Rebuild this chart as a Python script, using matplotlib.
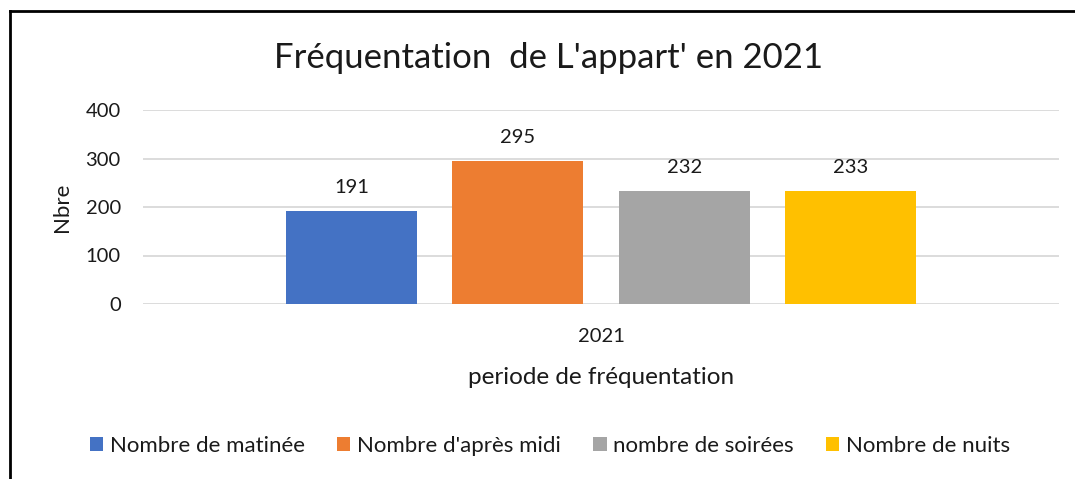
import matplotlib
matplotlib.use("Agg")
import matplotlib.pyplot as plt
from matplotlib.lines import Line2D
from matplotlib.patches import Patch

plt.rcParams['font.family'] = ['Lato', 'DejaVu Sans']

categories = ["2021"]
series_names = ["Nombre de matinée", "Nombre d'après midi", "nombre de soirées", "Nombre de nuits"]
values = [191, 295, 232, 233]
colors = ["#4472C4", "#ED7D31", "#A5A5A5", "#FFC000"]
yticks = [0, 100, 200, 300, 400]

TXT = '#1a1a1a'
W, H = 1075, 479
fig = plt.figure(figsize=(W / 100, H / 100), dpi=100)
ax = fig.add_axes([143 / W, (H - 304) / H, (1059 - 143) / W, 194 / H])

offsets = [-0.2724, -0.0912, 0.0912, 0.2724]
width = 0.143
for name, v, c, off in zip(series_names, values, colors, offsets):
    ax.bar(0 + off, v, width=width, color=c, label=name, zorder=3)
    ax.annotate(str(v), xy=(0 + off, v), xytext=(0, 11), textcoords='offset points',
                ha='center', va='bottom', fontsize=14.5, color=TXT)

ax.set_xlim(-0.5, 0.5)
ax.set_ylim(0, 400)
ax.set_yticks(yticks)
ax.set_xticks([0])
ax.set_xticklabels(categories)
ax.tick_params(axis='both', length=0, labelsize=14.5, colors=TXT)
ax.tick_params(axis='y', pad=16)
ax.tick_params(axis='x', pad=17)
ax.grid(axis='y', color='#D9D9D9', linewidth=1.3, zorder=0)
for s in ax.spines.values():
    s.set_visible(False)

ax.set_ylabel("Nbre", fontsize=16, color=TXT, labelpad=10)
ax.set_xlabel("periode de fréquentation", fontsize=17.5, color=TXT, labelpad=16)

fig.text(549 / W, 1 - 58 / H, "Fréquentation  de L'appart' en 2021", ha='center', va='center',
         fontsize=25, color=TXT)

handles = [Patch(facecolor=c, edgecolor='none') for c in colors]
fig.legend(handles, series_names, loc='center', bbox_to_anchor=(550 / W, 1 - 446 / H), ncol=4,
           frameon=False, fontsize=16, handlelength=0.6, handleheight=0.6, handletextpad=0.3,
           columnspacing=1.45, labelcolor=TXT)

# border
fig.add_artist(Line2D([10 / W, 10 / W], [0, 1 - 11 / H], transform=fig.transFigure, color='black', linewidth=2))
fig.add_artist(Line2D([10 / W, 1], [1 - 11 / H, 1 - 11 / H], transform=fig.transFigure, color='black', linewidth=2))

fig.savefig("out.png", dpi=100)
